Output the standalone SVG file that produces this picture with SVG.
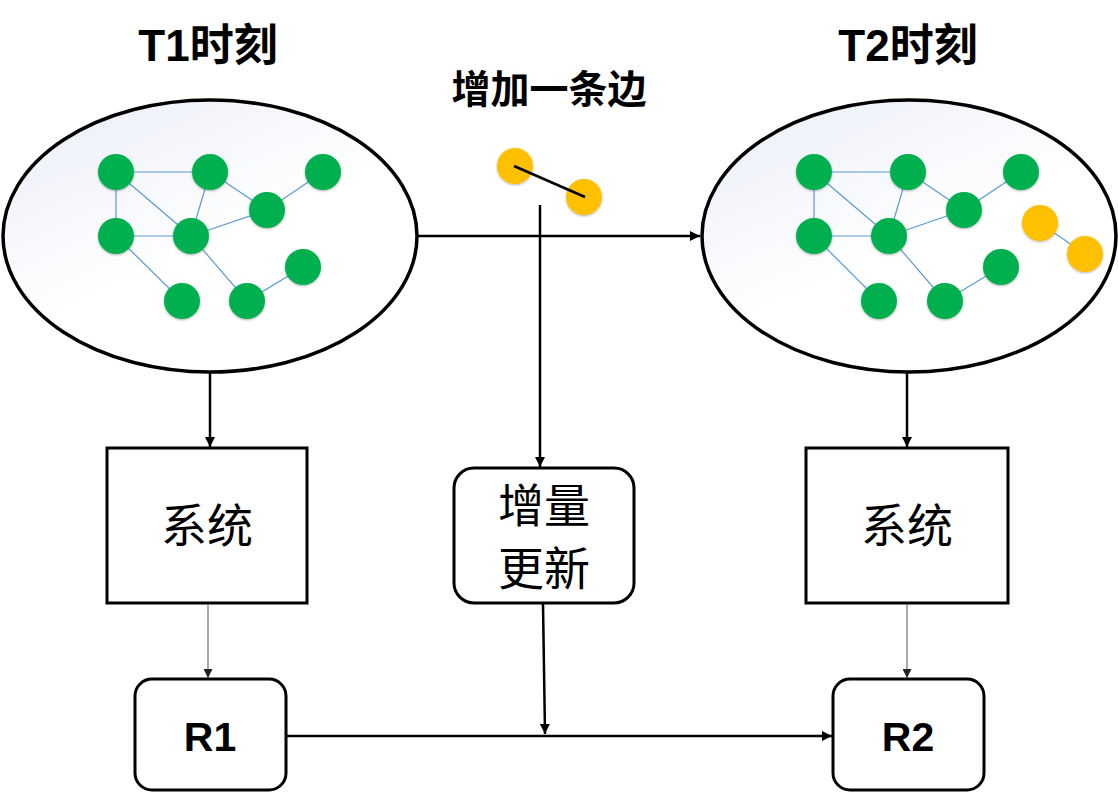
<svg xmlns="http://www.w3.org/2000/svg" width="1118" height="794" viewBox="0 0 1118 794">
<defs>
<linearGradient id="ellFill" x1="0" y1="0" x2="0.7" y2="1">
<stop offset="0" stop-color="#e9edf7"/>
<stop offset="0.6" stop-color="#ffffff"/>
<stop offset="1" stop-color="#ffffff"/>
</linearGradient>
<filter id="sh" x="-30%" y="-30%" width="160%" height="160%">
<feDropShadow dx="0" dy="1" stdDeviation="1.2" flood-color="#000" flood-opacity="0.3"/>
</filter>
<marker id="ah" viewBox="0 0 10 10" refX="10" refY="5" markerWidth="10" markerHeight="10" markerUnits="userSpaceOnUse" orient="auto">
<path d="M0,0 L10,5 L0,10 z" fill="#000"/>
</marker>
<marker id="ahs" viewBox="0 0 10 10" refX="10" refY="5" markerWidth="9" markerHeight="9" markerUnits="userSpaceOnUse" orient="auto">
<path d="M0,0 L10,5 L0,10 z" fill="#222"/>
</marker>
</defs>
<style>
.ell{fill:url(#ellFill);stroke:#000;stroke-width:3.5}
.g{fill:#00b050;filter:url(#sh)}
.y{fill:#ffc000;filter:url(#sh)}
.e{stroke:#5b9bd5;stroke-width:1.2;fill:none}
.box{fill:#fff;stroke:#000;stroke-width:3}
.conn{stroke:#000;stroke-width:2.5;fill:none}
.thin{stroke:#555;stroke-width:1;fill:none}
.cjk{font-family:"Noto Sans CJK SC","Liberation Sans",sans-serif;text-anchor:middle;fill:#000}
.title{font-family:"Liberation Sans","Noto Sans CJK SC",sans-serif;font-weight:bold;font-size:44px;text-anchor:middle;fill:#000}
.lat{font-family:"Liberation Sans",sans-serif;font-weight:bold;font-size:41px;text-anchor:middle;fill:#000}
</style>

<text class="title" x="208" y="61">T1时刻</text>
<text class="title" x="908" y="61">T2时刻</text>
<text class="cjk" x="549" y="103" font-size="39" font-weight="bold">增加一条边</text>

<g id="graph-t1">
<ellipse class="ell" cx="210" cy="236" rx="207" ry="136"/>
<g class="edges">
<line class="e" x1="116" y1="172" x2="210" y2="172"/>
<line class="e" x1="116" y1="172" x2="116" y2="236"/>
<line class="e" x1="116" y1="172" x2="191" y2="236"/>
<line class="e" x1="210" y1="172" x2="191" y2="236"/>
<line class="e" x1="210" y1="172" x2="267" y2="210"/>
<line class="e" x1="323" y1="172" x2="267" y2="210"/>
<line class="e" x1="116" y1="236" x2="191" y2="236"/>
<line class="e" x1="191" y1="236" x2="267" y2="210"/>
<line class="e" x1="116" y1="236" x2="182" y2="301"/>
<line class="e" x1="191" y1="236" x2="247" y2="301"/>
<line class="e" x1="247" y1="301" x2="303" y2="267"/>
</g>
<circle class="g" cx="116" cy="172" r="18"/>
<circle class="g" cx="210" cy="172" r="18"/>
<circle class="g" cx="323" cy="172" r="18"/>
<circle class="g" cx="267" cy="210" r="18"/>
<circle class="g" cx="116" cy="236" r="18"/>
<circle class="g" cx="191" cy="236" r="18"/>
<circle class="g" cx="303" cy="267" r="18"/>
<circle class="g" cx="182" cy="301" r="18"/>
<circle class="g" cx="247" cy="301" r="18"/>
</g>

<g id="graph-t2">
<ellipse class="ell" cx="909" cy="236" rx="207" ry="136"/>
<g class="edges">
<line class="e" x1="814" y1="172" x2="908" y2="172"/>
<line class="e" x1="814" y1="172" x2="814" y2="236"/>
<line class="e" x1="814" y1="172" x2="889" y2="236"/>
<line class="e" x1="908" y1="172" x2="889" y2="236"/>
<line class="e" x1="908" y1="172" x2="964" y2="210"/>
<line class="e" x1="1021" y1="172" x2="964" y2="210"/>
<line class="e" x1="814" y1="236" x2="889" y2="236"/>
<line class="e" x1="889" y1="236" x2="964" y2="210"/>
<line class="e" x1="814" y1="236" x2="879" y2="301"/>
<line class="e" x1="889" y1="236" x2="945" y2="301"/>
<line class="e" x1="945" y1="301" x2="1001" y2="267"/>
<line class="e" x1="1040" y1="223" x2="1085" y2="254"/>
</g>
<circle class="g" cx="814" cy="172" r="18"/>
<circle class="g" cx="908" cy="172" r="18"/>
<circle class="g" cx="1021" cy="172" r="18"/>
<circle class="g" cx="964" cy="210" r="18"/>
<circle class="g" cx="814" cy="236" r="18"/>
<circle class="g" cx="889" cy="236" r="18"/>
<circle class="g" cx="1001" cy="267" r="18"/>
<circle class="g" cx="879" cy="301" r="18"/>
<circle class="g" cx="945" cy="301" r="18"/>
<circle class="y" cx="1040" cy="223" r="18"/>
<circle class="y" cx="1085" cy="254" r="18"/>
</g>

<g id="new-edge">
<circle class="y" cx="515" cy="166" r="18"/>
<circle class="y" cx="584" cy="197" r="18"/>
<line x1="514" y1="166" x2="585" y2="197" stroke="#000" stroke-width="2.6"/>
</g>

<g id="sys1">
<rect class="box" x="107" y="448" width="200" height="155"/>
<text class="cjk" x="207" y="542" font-size="46">系统</text>
</g>
<g id="sys2">
<rect class="box" x="806" y="448" width="202" height="155"/>
<text class="cjk" x="907" y="542" font-size="46">系统</text>
</g>
<g id="incr">
<rect class="box" x="454" y="468" width="180" height="135" rx="20"/>
<text class="cjk" x="544" y="522" font-size="46">增量</text>
<text class="cjk" x="544" y="585" font-size="46">更新</text>
</g>
<g id="r1">
<rect class="box" x="135" y="679" width="151" height="111" rx="17"/>
<text class="lat" x="210" y="751">R1</text>
</g>
<g id="r2">
<rect class="box" x="833" y="679" width="151" height="111" rx="17"/>
<text class="lat" x="908" y="751">R2</text>
</g>

<g id="connectors">
<line class="conn" x1="417" y1="236" x2="700" y2="236" marker-end="url(#ah)"/>
<line class="conn" x1="540" y1="205" x2="540" y2="467" marker-end="url(#ah)"/>
<line class="conn" x1="210" y1="372" x2="210" y2="447" marker-end="url(#ah)"/>
<line class="conn" x1="907" y1="372" x2="907" y2="447" marker-end="url(#ah)"/>
<line class="thin" x1="208" y1="604" x2="208" y2="678" marker-end="url(#ahs)"/>
<line class="thin" x1="907" y1="604" x2="907" y2="678" marker-end="url(#ahs)"/>
<line class="conn" x1="543" y1="604" x2="545" y2="734" marker-end="url(#ah)"/>
<line class="conn" x1="287" y1="736" x2="832" y2="736" marker-end="url(#ah)"/>
</g>
</svg>
